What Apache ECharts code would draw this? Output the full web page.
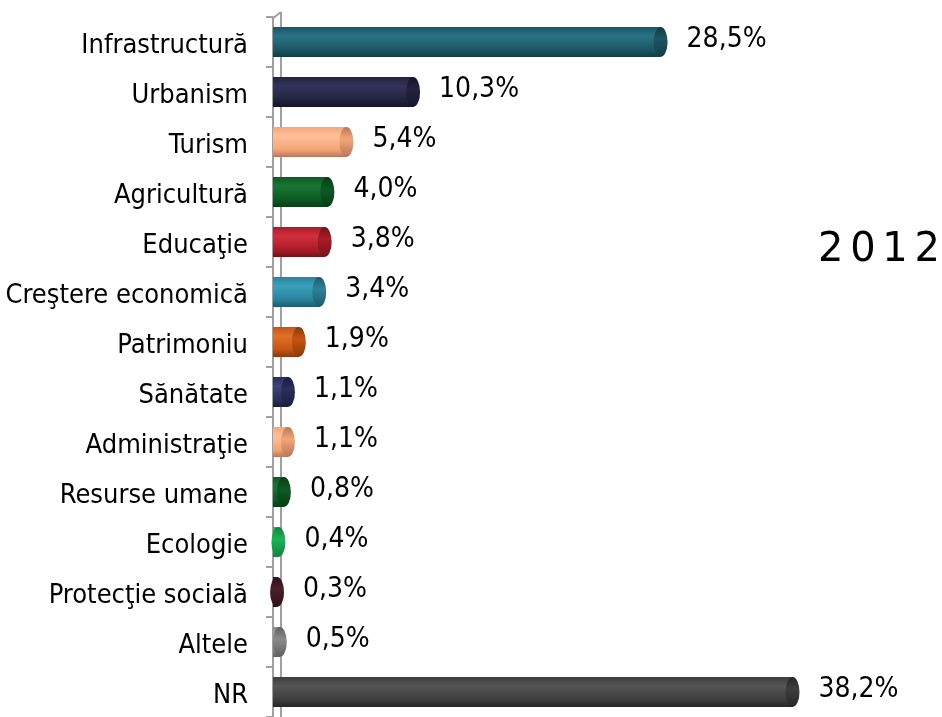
<!DOCTYPE html>
<html>
<head>
<meta charset="utf-8">
<script src="https://cdn.jsdelivr.net/npm/echarts@6/dist/echarts.min.js"></script>
<style>
html,body{margin:0;padding:0;background:#fff;}
#chart{width:942px;height:717px;}
</style>
</head>
<body>
<div id="chart"></div>
<script>
const categories = ['Infrastructură','Urbanism','Turism','Agricultură','Educaţie','Creştere economică','Patrimoniu','Sănătate','Administraţie','Resurse umane','Ecologie','Protecţie socială','Altele','NR'];
const values = [28.5,10.3,5.4,4.0,3.8,3.4,1.9,1.1,1.1,0.8,0.4,0.3,0.5,38.2];
const yearLabel = '2\u20060\u20061\u20062';

const palette = [
  ['#2a7486','#1c5665','#123c47'],
  ['#34345a','#232340','#15152a'],
  ['#ffc09a','#f4a577','#b9775a'],
  ['#1a7634','#0d5a24','#073d17'],
  ['#d0303c','#ab1c28','#741119'],
  ['#3aa0bb','#2a839c','#1c5b6d'],
  ['#e0702a','#c65512','#8a390a'],
  ['#3c4478','#2a2f5c','#1a1e3e'],
  ['#ffc09a','#f4a577','#b9775a'],
  ['#1a7634','#0d5a24','#073d17'],
  ['#3fd87a','#1db455','#128040'],
  ['#64303e','#4a1f2a','#2e1119'],
  ['#b0b0b0','#8a8a8a','#606060'],
  ['#555555','#3e3e3e','#262626']
];

function cyl(c){
  return new echarts.graphic.LinearGradient(0,0,0,1,[
    {offset:0,color:c[1]},{offset:0.3,color:c[0]},{offset:0.75,color:c[1]},{offset:1,color:c[2]}
  ]);
}
function cap(c){
  return new echarts.graphic.LinearGradient(0,0,0,1,[
    {offset:0,color:c[2]},{offset:0.4,color:c[1]},{offset:1,color:c[2]}
  ]);
}

const FONT = 'DejaVu Sans Condensed';
const chart = echarts.init(document.getElementById('chart'));
chart.setOption({
  animation:false,
  backgroundColor:'#fff',
  grid:{left:273,top:17,right:57,bottom:0,containLabel:false},
  xAxis:{type:'value',min:0,max:45,show:false},
  yAxis:{
    type:'category',data:categories,inverse:true,
    axisLine:{show:true,lineStyle:{color:'#a0a0a0',width:2}},
    axisTick:{show:true,length:7,lineStyle:{color:'#a0a0a0',width:2}},
    axisLabel:{margin:25,formatter:v=>'{a|'+v+'}',
      rich:{a:{fontFamily:FONT,fontSize:27,color:'#000',padding:[7,0,0,0]}}}
  },
  graphic:[
    {type:'line',z:0,shape:{x1:281,y1:12,x2:281,y2:717},style:{stroke:'#a0a0a0',lineWidth:2}},
    {type:'line',z:0,shape:{x1:272,y1:19,x2:281,y2:12},style:{stroke:'#a0a0a0',lineWidth:2}},
    {type:'text',left:818,top:231,style:{text:yearLabel,font:'40px "DejaVu Sans"',fill:'#000'}}
  ],
  series:[
    {
      type:'bar',barWidth:30,z:3,
      data:values.map((v,i)=>({value:v,itemStyle:{color:cyl(palette[i])}})),
      label:{show:true,position:'right',distance:26,fontFamily:FONT,fontSize:28,color:'#000',offset:[0,-2],
        formatter:p=>p.value.toFixed(1).replace('.',',')+'%'}
    },
    {
      type:'pictorialBar',z:4,symbol:'circle',symbolSize:[14,30],symbolPosition:'end',symbolOffset:['50%',0],
      data:values.map((v,i)=>({value:v,itemStyle:{color:cap(palette[i])}}))
    }
  ]
});
</script>
</body>
</html>
